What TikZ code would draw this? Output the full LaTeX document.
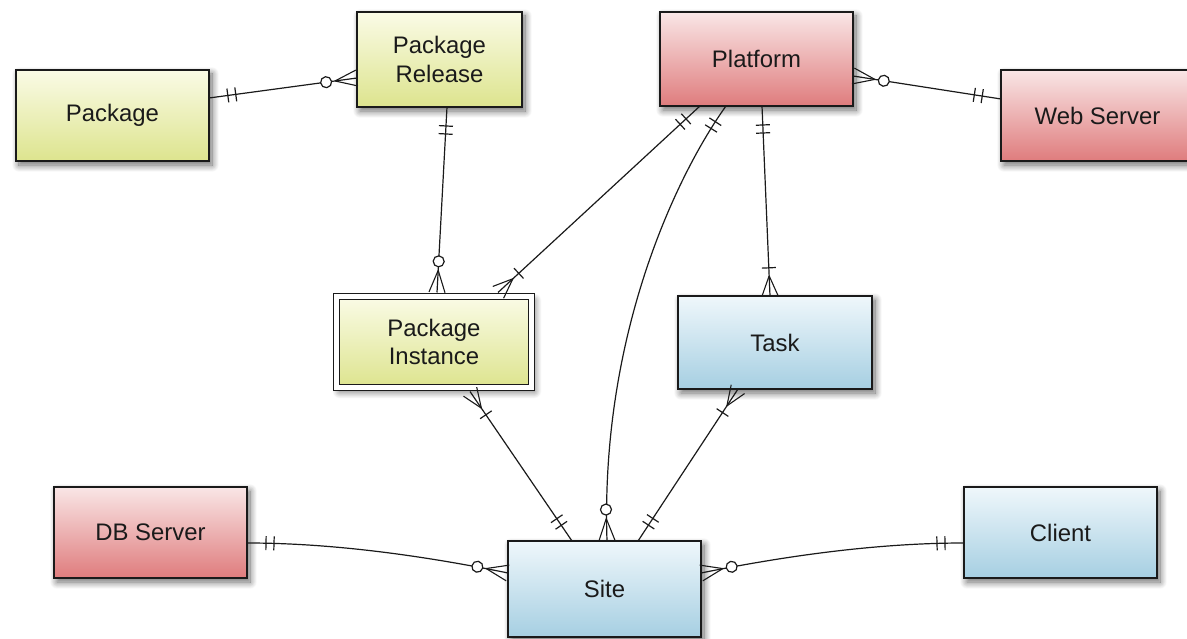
\documentclass[tikz,border=0pt]{standalone}
\usepackage{fontspec}
\setmainfont{Liberation Sans}
\usetikzlibrary{decorations.markings,shadows.blur}
\definecolor{ytop}{HTML}{FAFBE6}
\definecolor{ybot}{HTML}{DDE48E}
\definecolor{ptop}{HTML}{F9E6E6}
\definecolor{pbot}{HTML}{DF7C7D}
\definecolor{btop}{HTML}{EFF7FB}
\definecolor{bbot}{HTML}{A6CFE2}
\definecolor{ink}{HTML}{1A1A1A}
\begin{document}
\begin{tikzpicture}[x=1bp,y=-1bp,
  ent/.style={draw=ink, line width=1.4bp, rectangle, inner sep=0pt, outer sep=0pt,
    font=\fontsize{24}{29}\selectfont, text=ink, align=center,
    blur shadow={shadow xshift=3bp, shadow yshift=-4bp, shadow blur radius=7bp, shadow blur steps=12, shadow opacity=60}},
  yel/.style={ent, top color=ytop, bottom color=ybot},
  pink/.style={ent, top color=ptop, bottom color=pbot},
  blue/.style={ent, top color=btop, bottom color=bbot},
  conn/.style={draw=ink, line width=1.2bp},
  one start/.style={postaction={decorate, decoration={markings,
      mark=at position 19bp with {\draw[ink, line width=1.2bp] (0,-7)--(0,7);},
      mark=at position 27bp with {\draw[ink, line width=1.2bp] (0,-7)--(0,7);}}}},
  zero many end/.style={postaction={decorate, decoration={markings,
      mark=at position 0.999 with {\draw[ink, line width=1.1bp] (-22,0)--(0,8) (-22,0)--(0,-8);
        \draw[ink, line width=1.2bp, fill=white] (-31,0) circle (5.5bp);}}}},
  one many end/.style={postaction={decorate, decoration={markings,
      mark=at position 0.999 with {\draw[ink, line width=1.1bp] (-20,0)--(0,8) (-20,0)--(0,-8);
        \draw[ink, line width=1.2bp] (-28,-7)--(-28,7);}}}}
]
\useasboundingbox (0,0) rectangle (1187,639);

\node[yel, minimum width=193bp, minimum height=91bp] (pkg) at (112.5,115.5) {Package};
\node[yel, minimum width=165bp, minimum height=95bp] (rel) at (439.5,59.5) {Package\\Release};
\node[pink, minimum width=193bp, minimum height=94bp] (plat) at (756.5,59) {Platform};
\node[pink, minimum width=193bp, minimum height=91bp] (web) at (1097.5,115.5) {Web Server};
\node[yel, line width=1.7bp, minimum width=195bp, minimum height=91bp, double=white, double distance=4.5bp, outer sep=4bp] (inst) at (434,342) {Package\\Instance};
\node[blue, minimum width=194bp, minimum height=93bp] (task) at (775,342.5) {Task};
\node[pink, minimum width=193bp, minimum height=91bp] (db) at (150.5,532.5) {DB Server};
\node[blue, minimum width=193bp, minimum height=96bp] (site) at (604.5,589) {Site};
\node[blue, minimum width=193bp, minimum height=91bp] (client) at (1060.5,532.5) {Client};

% connectors
\draw[conn, one start, zero many end] ([yshift=17.5bp]pkg.east) -- ([yshift=-18.5bp]rel.west);
\draw[conn, one start, zero many end] ([xshift=7.5bp]rel.south) -- ([xshift=3bp]inst.north);
\draw[conn, one start, one many end] ([xshift=-56.5bp]plat.south) -- ([xshift=64bp]inst.north);
\draw[conn, one start, zero many end] ([xshift=-30.5bp]plat.south) .. controls (680,170) and (600,330) .. ([xshift=2.5bp]site.north);
\draw[conn, one start, one many end] ([xshift=5.5bp]plat.south) -- ([xshift=-5bp]task.north);
\draw[conn, one start, zero many end] ([yshift=16.5bp]web.west) -- ([yshift=-17bp]plat.east);
\draw[conn, one start, one many end] ([xshift=-32.5bp]site.north) -- ([xshift=36bp]inst.south);
\draw[conn, one start, one many end] ([xshift=33.5bp]site.north) -- ([xshift=-37bp]task.south);
\draw[conn, one start, zero many end] ([yshift=-10.5bp]db.east) .. controls (330,543) and (420,555) .. ([yshift=16bp]site.west);
\draw[conn, one start, zero many end] ([yshift=-10.5bp]client.west) .. controls (880,543) and (790,555) .. ([yshift=16bp]site.east);
\end{tikzpicture}
\end{document}
